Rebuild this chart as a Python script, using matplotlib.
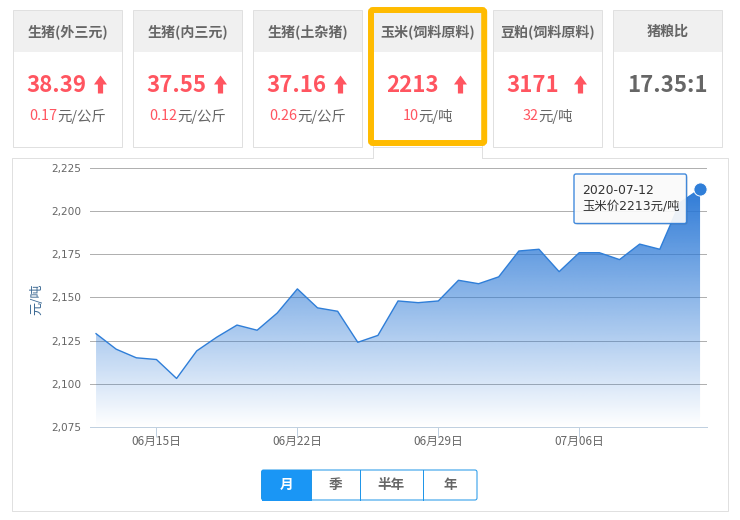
import numpy as np
from matplotlib import pyplot as plt
from matplotlib.patches import Rectangle, FancyBboxPatch, Polygon

plt.rcParams['font.family'] = ['Noto Sans CJK SC', 'DejaVu Sans']

# Data
dates = ["06-12", "06-13", "06-14", "06-15", "06-16", "06-17", "06-18", "06-19",
         "06-20", "06-21", "06-22", "06-23", "06-24", "06-25", "06-26", "06-27",
         "06-28", "06-29", "06-30", "07-01", "07-02", "07-03", "07-04", "07-05",
         "07-06", "07-07", "07-08", "07-09", "07-10", "07-11", "07-12"]
prices = [2129, 2120, 2115, 2114, 2103, 2119, 2127, 2134, 2131, 2141, 2155,
          2144, 2142, 2124, 2128, 2148, 2147, 2148, 2160, 2158, 2162, 2177,
          2178, 2165, 2176, 2176, 2172, 2181, 2178, 2205, 2213]
y_ticks = [2075, 2100, 2125, 2150, 2175, 2200, 2225]
tick_dates = ["06-15", "06-22", "06-29", "07-06"]
tick_labels = ["06月15日", "06月22日", "06月29日", "07月06日"]

card_titles = ["生猪(外三元)", "生猪(内三元)", "生猪(土杂猪)", "玉米(饲料原料)", "豆粕(饲料原料)", "猪粮比"]
card_values = ["38.39", "37.55", "37.16", "2213", "3171", "17.35:1"]
card_changes = ["0.17", "0.12", "0.26", "10", "32", ""]
card_units = ["元/公斤", "元/公斤", "元/公斤", "元/吨", "元/吨", ""]
buttons = ["月", "季", "半年", "年"]

RED = "#ff5560"
GRAY = "#666666"
BORDER = "#e0e0e0"
BLUE = "#2f7ed8"
LINE_1PX = 0.72

fig = plt.figure(figsize=(7.4, 5.2), dpi=100)

# page layer, in pixels (limits shifted half a pixel so thin lines snap where they should)
bg = fig.add_axes([0, 0, 1, 1], zorder=0)
bg.set_xlim(0.5, 740.5)
bg.set_ylim(519.5, -0.5)
bg.axis("off")

# chart panel, open at the top under the selected card
bg.plot([373.5, 12.5, 12.5, 728.5, 728.5, 482.5], [157.5, 157.5, 510.5, 510.5, 157.5, 157.5], color=BORDER, lw=LINE_1PX)
bg.plot([373.5, 373.5], [146, 157.5], color=BORDER, lw=LINE_1PX)
bg.plot([482.5, 482.5], [146, 157.5], color=BORDER, lw=LINE_1PX)

card_lefts = [13.5, 133.5, 253.5, 373.5, 493.5, 613.5]
renderer = fig.canvas.get_renderer()
for i, left in enumerate(card_lefts):
    cx = left + 54.5
    bg.add_patch(Rectangle((left, 9.5), 109, 137, fc="white", ec=BORDER, lw=LINE_1PX))
    bg.add_patch(Rectangle((left + 0.5, 10), 108, 41, fc="#f0f0f0", ec="none"))
    bg.text(cx, 31, card_titles[i], ha="center", va="center", fontsize=10.1, color=GRAY, fontweight="bold")
    if i == 5:
        bg.text(cx, 85, card_values[i], ha="center", va="center", fontsize=16, color=GRAY, fontweight="bold")
        continue
    bg.text(left + 13.5, 85, card_values[i], ha="left", va="center", fontsize=16, color=RED, fontweight="bold")
    ax0 = left + 87.5
    bg.add_patch(Polygon([(ax0, 75), (ax0 + 6.5, 84), (ax0 + 2.6, 84), (ax0 + 2.6, 93),
                          (ax0 - 2.6, 93), (ax0 - 2.6, 84), (ax0 - 6.5, 84)], fc=RED, ec="none"))
    # change value and unit, centred as a pair
    t1 = bg.text(0, 116, card_changes[i], ha="left", va="center", fontsize=10.4, color=RED)
    t2 = bg.text(0, 116, card_units[i], ha="left", va="center", fontsize=10.4, color=GRAY)
    w1 = t1.get_window_extent(renderer).width
    w2 = t2.get_window_extent(renderer).width
    t1.set_x(cx - (w1 + w2) / 2)
    t2.set_x(cx - (w1 + w2) / 2 + w1)

# selected card frame
bg.add_patch(FancyBboxPatch((371.5, 9.5), 113.2, 133, boxstyle="round,pad=0,rounding_size=2",
                            fc="none", ec="#ffbb00", lw=4.3, zorder=5))

# range buttons
btn_edges = [262, 311.5, 360.5, 423.5, 477.5]
bg.add_patch(FancyBboxPatch((262, 469.5), 215.5, 30, boxstyle="round,pad=0,rounding_size=2",
                            fc="white", ec="#2196e8", lw=LINE_1PX))
bg.add_patch(Rectangle((262, 469), 49.5, 31, fc="#1a96f5", ec="none"))
for edge in btn_edges[1:-1]:
    bg.plot([edge, edge], [469.5, 499.5], color="#2196e8", lw=LINE_1PX)
for i, label in enumerate(buttons):
    bg.text((btn_edges[i] + btn_edges[i + 1]) / 2, 484.5, label, ha="center", va="center", fontsize=9.8,
            fontweight="bold", color="white" if i == 0 else GRAY)

# chart
ax = fig.add_axes([90 / 740, 1 - 426.7 / 520, (706.7 - 90) / 740, (426.7 - 168.3) / 520], zorder=1)
ax.patch.set_alpha(0)
x = np.arange(len(dates))
ax.set_xlim(-0.3, 30.33)
ax.set_ylim(y_ticks[0], y_ticks[-1])
ax.yaxis.grid(True, color="#b0b0b0", lw=LINE_1PX)
ax.set_axisbelow(True)
for side in ["top", "left", "right"]:
    ax.spines[side].set_visible(False)
ax.spines["bottom"].set_color("#c0d0e0")
ax.spines["bottom"].set_linewidth(LINE_1PX)
ax.set_yticks(y_ticks)
ax.set_yticklabels(["{:,}".format(v) for v in y_ticks], family=["DejaVu Sans"])
ax.set_xticks([dates.index(d) for d in tick_dates])
ax.set_xticklabels(tick_labels)
ax.tick_params(axis="y", length=0, pad=6.2, labelsize=7.6, labelcolor=GRAY)
ax.tick_params(axis="x", length=7, width=LINE_1PX, color="#c0d0e0", pad=-1, labelsize=8.5, labelcolor=GRAY)
ax.set_ylabel("元/吨", fontsize=9.5, color="#3d6a94")
ax.yaxis.set_label_coords((43 - 90) / 616.7, 0.494)

# gradient area
grad = np.zeros((256, 2, 4))
grad[..., 0] = 0x2a / 255
grad[..., 1] = 0x78 / 255
grad[..., 2] = 0xd6 / 255
grad[..., 3] = np.linspace(0.98, 0.0, 256)[:, None]
img = ax.imshow(grad, extent=[x[0], x[-1], y_ticks[0], max(prices)], origin="upper", aspect="auto", zorder=2)
area = ax.fill_between(x, prices, y_ticks[0], color="none")
img.set_clip_path(area.get_paths()[0], transform=ax.transData)
ax.set_xlim(-0.3, 30.33)
ax.set_ylim(y_ticks[0], y_ticks[-1])
ax.plot(x, prices, color=BLUE, lw=1.0, zorder=3)
ax.plot(x[-1], prices[-1], "o", ms=9.5, mfc=BLUE, mec="white", mew=0.7, clip_on=False, zorder=4)

# tooltip
top = fig.add_axes([0, 0, 1, 1], zorder=2)
top.set_xlim(0.5, 740.5)
top.set_ylim(519.5, -0.5)
top.axis("off")
top.add_patch(FancyBboxPatch((576, 175), 112, 49, boxstyle="round,pad=0,rounding_size=2", fc="#555555", ec="none", alpha=0.25))
top.add_patch(FancyBboxPatch((574.5, 173.5), 112.5, 49.5, boxstyle="round,pad=0,rounding_size=2",
                             fc="white", ec=BLUE, lw=1, alpha=0.9))
tip_font = ["DejaVu Sans", "Noto Sans CJK SC"]
top.text(582.5, 189.5, "2020-" + dates[-1], ha="left", va="center", fontsize=8.9, color="#333333", family=tip_font)
top.text(582.5, 205.5, "玉米价{}元/吨".format(prices[-1]), ha="left", va="center", fontsize=8.9, color="#333333", family=tip_font)

plt.savefig("out.png", dpi=100)
